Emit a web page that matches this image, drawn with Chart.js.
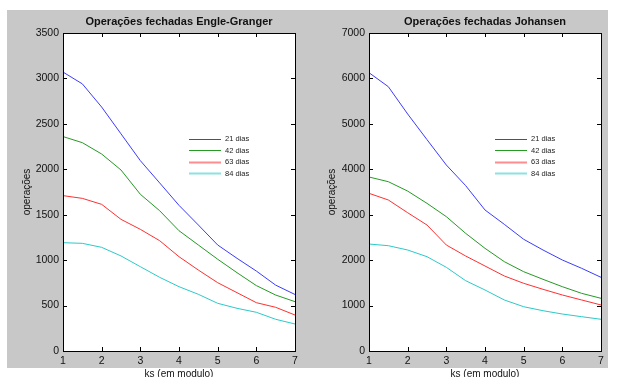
<!DOCTYPE html>
<html>
<head>
<meta charset="utf-8">
<script src="https://cdn.jsdelivr.net/npm/chart.js@4"></script>
<style>
  html, body { margin: 0; padding: 0; background: #fff; width: 618px; height: 377px; overflow: hidden; }
  #fig { position: absolute; left: 7px; top: 10px; width: 601px; height: 358px; background: #c8c8c8; }
  canvas { position: absolute; top: 0; }
  #egChart { left: 0; }
  #joChart { left: 309px; }
</style>
</head>
<body>
<div id="fig"></div>
<canvas id="egChart" width="309" height="390" style="width:309px;height:390px"></canvas>
<canvas id="joChart" width="309" height="390" style="width:309px;height:390px"></canvas>
<script>
// ks values (em modulo)
const ks = [1, 1.5, 2, 2.5, 3, 3.5, 4, 4.5, 5, 5.5, 6, 6.5, 7];
const seriesNames = ["21 dias", "42 dias", "63 dias", "84 dias"];
const seriesColors = ["#3c3cff", "#259a25", "#ff3030", "#2ccaca"];

// Engle-Granger
const eg21 = [3070, 2940, 2685, 2390, 2095, 1850, 1603, 1387, 1167, 1020, 880, 725, 622];
const eg42 = [2360, 2293, 2168, 1992, 1725, 1544, 1324, 1167, 1010, 862, 720, 616, 543];
const eg63 = [1710, 1680, 1614, 1449, 1339, 1214, 1038, 891, 752, 642, 532, 481, 396];
const eg84 = [1192, 1185, 1141, 1046, 928, 811, 708, 624, 525, 470, 426, 349, 297];

// Johansen
const jo21 = [6126, 5818, 5217, 4652, 4094, 3640, 3104, 2788, 2459, 2223, 2003, 1820, 1622];
const jo42 = [3830, 3727, 3520, 3250, 2957, 2590, 2260, 1966, 1746, 1578, 1416, 1269, 1160];
const jo63 = [3471, 3324, 3044, 2773, 2333, 2091, 1871, 1651, 1490, 1358, 1233, 1123, 1013];
const jo84 = [2355, 2318, 2223, 2076, 1842, 1548, 1343, 1123, 975, 887, 814, 755, 698];

const FONT = "'Liberation Sans', Arial, sans-serif";

// white axes background, box with inward ticks on all four sides
const boxAxes = {
    id: "boxAxes",
    beforeDatasetsDraw(chart) {
        const a = chart.chartArea, ctx = chart.ctx;
        ctx.save();
        ctx.fillStyle = "#fff";
        ctx.fillRect(a.left, a.top, a.right - a.left, a.bottom - a.top);
        ctx.restore();
    },
    afterDraw(chart) {
        const a = chart.chartArea, ctx = chart.ctx;
        const len = 4;
        ctx.save();
        ctx.strokeStyle = "#000";
        ctx.lineWidth = 1;
        ctx.strokeRect(Math.round(a.left) + 0.5, Math.round(a.top) + 0.5,
            Math.round(a.right - a.left), Math.round(a.bottom - a.top));
        ctx.beginPath();
        chart.scales.x.ticks.forEach(t => {
            const px = Math.round(chart.scales.x.getPixelForValue(t.value)) + 0.5;
            ctx.moveTo(px, a.bottom); ctx.lineTo(px, a.bottom - len);
            ctx.moveTo(px, a.top); ctx.lineTo(px, a.top + len);
        });
        chart.scales.y.ticks.forEach(t => {
            const py = Math.round(chart.scales.y.getPixelForValue(t.value)) + 0.5;
            ctx.moveTo(a.left, py); ctx.lineTo(a.left + len, py);
            ctx.moveTo(a.right, py); ctx.lineTo(a.right - len, py);
        });
        ctx.stroke();
        ctx.restore();
    }
};

// legend drawn inside the axes, no frame
const insideLegend = {
    id: "insideLegend",
    afterDatasetsDraw(chart) {
        const a = chart.chartArea, ctx = chart.ctx;
        ctx.save();
        ctx.font = "7.5px " + FONT;
        ctx.textBaseline = "middle";
        ctx.fillStyle = "#222";
        chart.data.datasets.forEach((ds, i) => {
            const y = a.top + 105.7 + i * 11.55;
            const x0 = a.left + 126;
            ctx.strokeStyle = ds.borderColor;
            ctx.lineWidth = i < 2 ? 1 : 2;
            ctx.globalAlpha = i < 2 ? 1 : 0.55;
            ctx.beginPath();
            ctx.moveTo(x0, Math.round(y) + 0.5);
            ctx.lineTo(x0 + 32, Math.round(y) + 0.5);
            ctx.stroke();
            ctx.globalAlpha = 1;
            ctx.fillText(ds.label, x0 + 36, y + 0.5);
        });
        ctx.restore();
    }
};

function makeChart(id, title, series, yMax, yStep, yWidth, yTitlePad, rightPad) {
    const ctx = document.getElementById(id).getContext("2d");
    return new Chart(ctx, {
        type: "line",
        data: {
            labels: ks,
            datasets: series.map((vals, i) => ({
                label: seriesNames[i],
                data: vals.map((v, j) => ({ x: ks[j], y: v })),
                borderColor: seriesColors[i],
                borderWidth: 1,
                pointRadius: 0,
                tension: 0,
                fill: false
            }))
        },
        options: {
            responsive: false,
            animation: false,
            layout: { padding: { left: 0, right: rightPad, top: 0, bottom: 0 } },
            plugins: {
                legend: { display: false },
                tooltip: { enabled: false },
                title: {
                    display: true,
                    text: title,
                    fullSize: false,
                    color: "#111",
                    font: { family: FONT, size: 11, weight: "bold", lineHeight: 1.2 },
                    padding: { top: 15, bottom: 4.8 }
                }
            },
            scales: {
                x: {
                    type: "linear",
                    min: 1,
                    max: 7,
                    grid: { display: false, drawTicks: false },
                    border: { display: false },
                    ticks: {
                        stepSize: 1, padding: 4, color: "#111",
                        font: { family: FONT, size: 10.5 },
                        callback: v => String(v)
                    },
                    title: {
                        display: true,
                        text: "ks (em modulo)",
                        color: "#111",
                        font: { family: FONT, size: 10, lineHeight: 1.2 },
                        padding: { top: 0, bottom: 10 }
                    },
                    afterFit(s) { s.height = 39; }
                },
                y: {
                    min: 0,
                    max: yMax,
                    grid: { display: false, drawTicks: false },
                    border: { display: false },
                    ticks: {
                        stepSize: yStep, padding: 4, color: "#111",
                        font: { family: FONT, size: 10.5 },
                        callback: v => String(v)
                    },
                    title: {
                        display: true,
                        text: "operações",
                        color: "#111",
                        font: { family: FONT, size: 10, lineHeight: 1.2 },
                        padding: { top: yTitlePad, bottom: 0 }
                    },
                    afterFit(s) { s.width = yWidth; }
                }
            }
        },
        plugins: [boxAxes, insideLegend]
    });
}

makeChart("egChart", "Operações fechadas Engle-Granger", [eg21, eg42, eg63, eg84], 3500, 500, 63, 21, 14);
makeChart("joChart", "Operações fechadas Johansen", [jo21, jo42, jo63, jo84], 7000, 1000, 60, 17, 17);
</script>
</body>
</html>
